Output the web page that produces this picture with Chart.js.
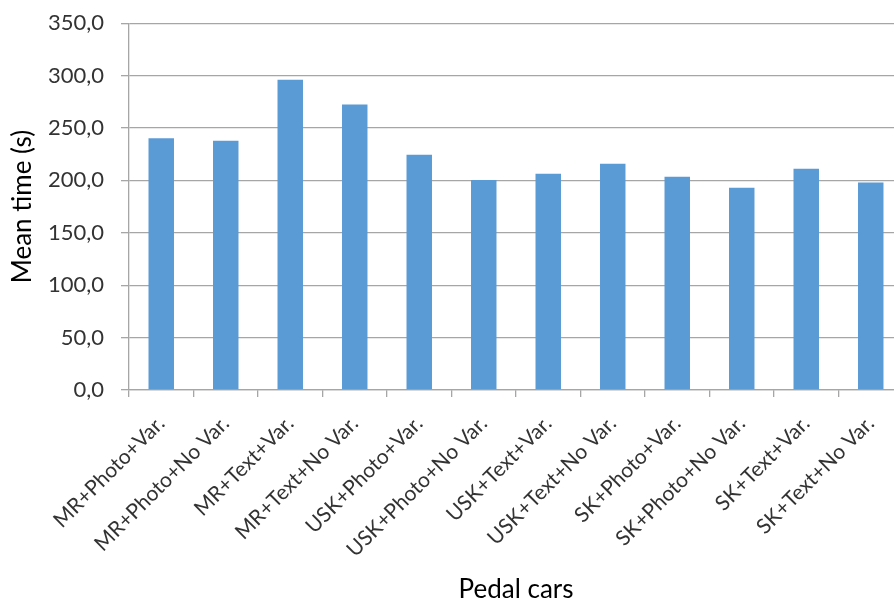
<!DOCTYPE html>
<html>
<head>
<meta charset="utf-8">
<title>Pedal cars - mean time</title>
<script src="https://cdn.jsdelivr.net/npm/chart.js@4/dist/chart.umd.min.js"></script>
<style>
    html, body {
        margin: 0;
        padding: 0;
        overflow: hidden;
        background: #ffffff;
    }
    /* canvas is a bit larger than the window so the plot runs off the right edge */
    #wrap {
        width: 904px;
        height: 612px;
        margin-top: -7px;
    }
</style>
</head>
<body>
<div id="wrap">
    <canvas id="myChart" width="904" height="612"></canvas>
</div>
<script>
// Variables
var categories = [
    "MR+Photo+Var.", "MR+Photo+No Var.", "MR+Text+Var.", "MR+Text+No Var.",
    "USK+Photo+Var.", "USK+Photo+No Var.", "USK+Text+Var.", "USK+Text+No Var.",
    "SK+Photo+Var.", "SK+Photo+No Var.", "SK+Text+Var.", "SK+Text+No Var."
];
var meanTimes = [240.3, 237.8, 296.0, 272.4, 224.5, 200.3, 206.4, 215.9, 203.5, 193.0, 211.1, 198.1];
var yMin = 0;
var yMax = 350;
var yStep = 50;

var fontName = "Lato";
var gridColor = "#a6a6a6";

/**
 * formats the y ticks with a decimal comma
 * @param {*} value
 * @returns string like "150,0"
 */
function commaLabel(value) {
    return value.toFixed(1).replace(".", ",");
}

let data = {
    labels: categories,
    datasets: [{
        label: "Mean time (s)",
        data: meanTimes,
        backgroundColor: "#5b9bd5",
        borderWidth: 0,
        categoryPercentage: 1.0,
        barPercentage: 0.395
    }]
};

let config = {
    type: "bar",
    data,
    options: {
        responsive: false,
        animation: false,
        layout: {
            padding: { left: 0, right: 1, top: 0, bottom: 0 }
        },
        plugins: {
            legend: { display: false },
            tooltip: { enabled: false }
        },
        scales: {
            x: {
                grid: {
                    display: true,
                    offset: true,
                    drawOnChartArea: false,
                    drawTicks: true,
                    tickLength: 7,
                    color: gridColor,
                    lineWidth: 1.3
                },
                border: { display: true, color: gridColor, width: 1.3 },
                ticks: {
                    color: "#333333",
                    font: { family: fontName, size: 21 },
                    minRotation: 45,
                    maxRotation: 45,
                    autoSkip: false,
                    padding: 14
                },
                title: {
                    display: true,
                    text: "Pedal cars",
                    color: "#000000",
                    font: { family: fontName, size: 26 },
                    padding: { top: 0, bottom: 0 }
                },
                afterFit: function(scale) {
                    scale.height = 215;
                }
            },
            y: {
                min: yMin,
                max: yMax,
                grid: {
                    color: gridColor,
                    lineWidth: 1.3,
                    drawTicks: true,
                    tickLength: 8
                },
                border: { display: true, color: gridColor, width: 1.3 },
                ticks: {
                    stepSize: yStep,
                    color: "#333333",
                    font: { family: fontName, size: 22 },
                    padding: 17,
                    callback: commaLabel
                },
                title: {
                    display: true,
                    text: "Mean time (s)",
                    color: "#000000",
                    font: { family: fontName, size: 26 },
                    padding: { top: 7, bottom: 0 }
                },
                afterFit: function(scale) {
                    scale.width = 129;
                }
            }
        }
    }
};

var myChart = new Chart(document.getElementById("myChart"), config);
</script>
</body>
</html>
